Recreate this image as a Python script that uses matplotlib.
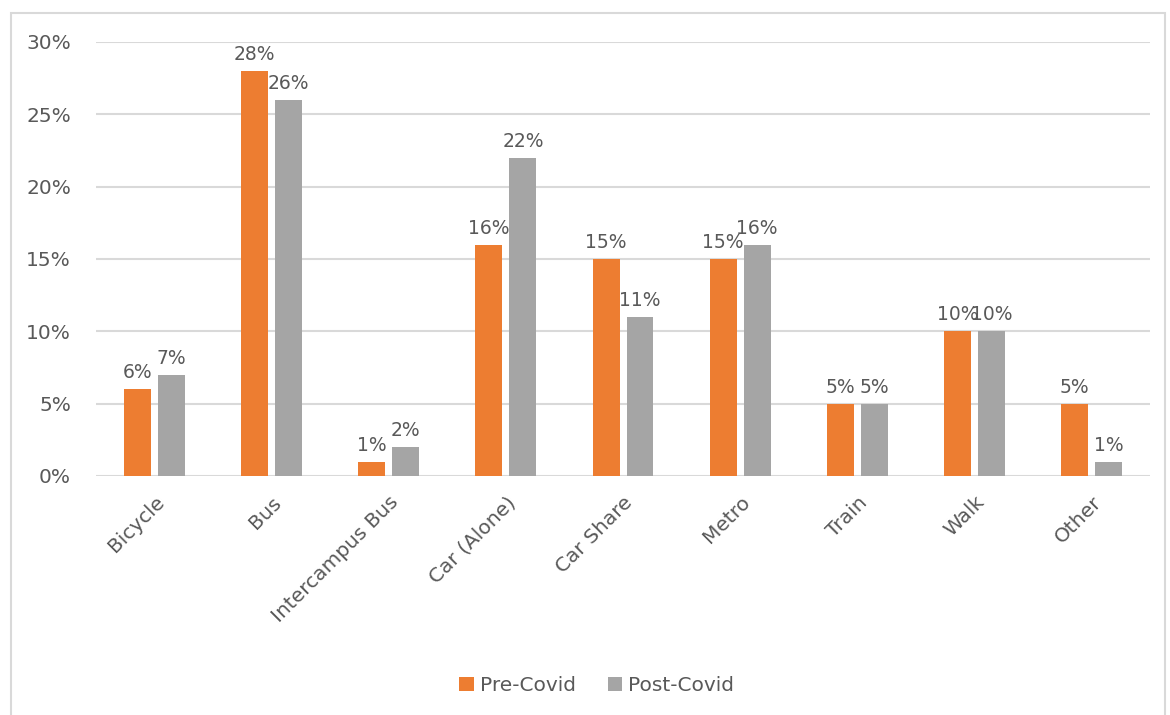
import matplotlib.pyplot as plt
from matplotlib.patches import Rectangle
from matplotlib.ticker import PercentFormatter
import numpy as np

# Commute mode shares before and after Covid
modes = ["Bicycle", "Bus", "Intercampus Bus", "Car (Alone)", "Car Share",
         "Metro", "Train", "Walk", "Other"]
pre_covid = [6, 28, 1, 16, 15, 15, 5, 10, 5]
post_covid = [7, 26, 2, 22, 11, 16, 5, 10, 1]

orange = "#ED7D31"
grey = "#A5A5A5"
text_col = "#595959"
grid_col = "#D9D9D9"

plt.rcParams["font.family"] = ["DejaVu Sans"]

fig = plt.figure(figsize=(11.7, 7.15), dpi=100)
ax = fig.add_axes([0.082, 0.3343, 0.901, 0.607])

# chart border
fig.patches.append(Rectangle((11 / 1170, -0.05), 1154 / 1170, 1.05 - 13 / 715,
                             transform=fig.transFigure, fill=False,
                             edgecolor=grid_col, linewidth=1.5))

x = np.arange(len(modes))
w = 0.23
off = 0.145
b1 = ax.bar(x - off, pre_covid, w, color=orange, label="Pre-Covid", zorder=3)
b2 = ax.bar(x + off, post_covid, w, color=grey, label="Post-Covid", zorder=3)

for bars, vals in ((b1, pre_covid), (b2, post_covid)):
    for bar, v in zip(bars, vals):
        ax.annotate(f"{v}%", (bar.get_x() + bar.get_width() / 2, v),
                    xytext=(0, 5), textcoords="offset points",
                    ha="center", va="bottom", fontsize=13.5, color=text_col)

ax.set_xlim(-0.5, len(modes) - 0.5)
ax.set_ylim(0, 30)
ax.set_yticks(range(0, 31, 5))
ax.yaxis.set_major_formatter(PercentFormatter(decimals=0))
ax.grid(axis="y", color=grid_col, linewidth=1.5, zorder=0)
for s in ax.spines.values():
    s.set_visible(False)
ax.tick_params(axis="both", length=0, labelsize=14.5, colors=text_col)
ax.tick_params(axis="y", pad=18)
ax.tick_params(axis="x", pad=12)
ax.set_xticks(x)
ax.set_xticklabels(modes, rotation=45, ha="right", rotation_mode="anchor")

fig.legend(loc="center", bbox_to_anchor=(0.51, 0.041), ncol=2, frameon=False,
           fontsize=14.5, labelcolor=text_col, handlelength=0.7, handleheight=0.7,
           handletextpad=0.3, columnspacing=1.6)

fig.savefig("out.png", dpi=100)
